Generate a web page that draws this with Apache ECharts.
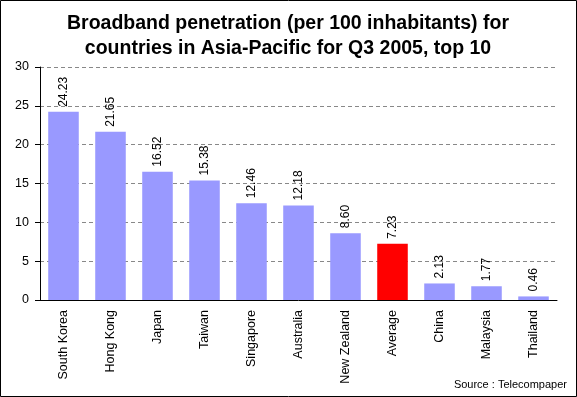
<!DOCTYPE html>
<html><head><meta charset="utf-8">
<script src="https://cdn.jsdelivr.net/npm/echarts@6/dist/echarts.min.js"></script>
<style>html,body{margin:0;padding:0;background:#fff}#c{width:577px;height:397px}</style>
</head><body><div id="c"></div>
<script>
const categories = ['South Korea','Hong Kong','Japan','Taiwan','Singapore','Australia','New Zealand','Average','China','Malaysia','Thailand'];
const values = [24.23, 21.65, 16.52, 15.38, 12.46, 12.18, 8.60, 7.23, 2.13, 1.77, 0.46];
const highlight = 'Average';
const yTicks = [0, 5, 10, 15, 20, 25, 30];

const chart = echarts.init(document.getElementById('c'), null, {renderer:'canvas'});
const font = 'Arial, "Liberation Sans", sans-serif';
chart.setOption({
  animation: false,
  backgroundColor: '#fff',
  title: {
    text: 'Broadband penetration (per 100 inhabitants) for\ncountries in Asia-Pacific for Q3 2005, top 10',
    left: 283, top: 6, textAlign: 'center',
    textStyle: {fontFamily: font, fontWeight: 'bold', fontSize: 19.5, lineHeight: 25, color: '#000'}
  },
  graphic: [
    {type:'rect', shape:{x:0.5,y:0.5,width:576,height:396}, style:{fill:'none', stroke:'#000', lineWidth:1}, silent:true},
    {type:'text', right: 10, bottom: 7, style:{text:'Source : Telecompaper', font:'11px ' + font, fill:'#000'}}
  ],
  grid: {left: 40, right: 20, top: 67, bottom: 97},
  xAxis: {
    type: 'category', data: categories,
    axisLine: {lineStyle: {color: '#000'}},
    axisTick: {lineStyle: {color: '#000'}, length: 5},
    axisLabel: {rotate: 90, color: '#000', fontFamily: font, fontSize: 12.5, margin: 10, interval: 0}
  },
  yAxis: {
    type: 'value', min: yTicks[0], max: yTicks[yTicks.length-1], interval: 5,
    axisLine: {show: true, lineStyle: {color: '#000'}},
    axisTick: {show: true, lineStyle: {color: '#000'}, length: 5},
    axisLabel: {color: '#000', fontFamily: font, fontSize: 12.5, margin: 11},
    splitLine: {lineStyle: {color: '#888', type: [4, 3]}}
  },
  series: [{
    type: 'bar',
    data: values.map((v, i) => ({value: v, itemStyle: {color: categories[i] === highlight ? '#FF0000' : '#9999FF'}})),
    barCategoryGap: '35%',
    label: {
      show: true, position: 'top', rotate: 90, align: 'left', verticalAlign: 'middle', distance: 5,
      color: '#000', fontFamily: font, fontSize: 12,
      formatter: p => p.value.toFixed(2)
    }
  }]
});
</script></body></html>
